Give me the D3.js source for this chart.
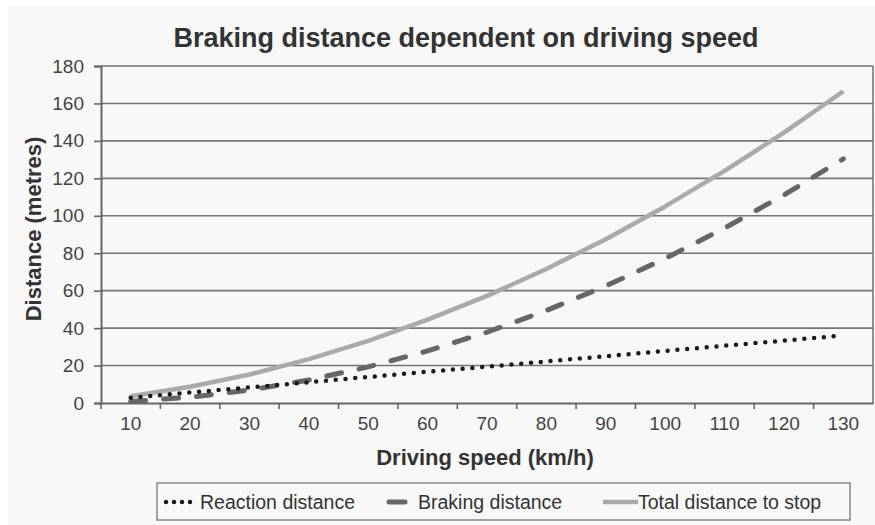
<!DOCTYPE html>
<html><head><meta charset="utf-8">
<script src="https://cdn.jsdelivr.net/npm/d3@7"></script>
<style>
html,body{margin:0;padding:0;background:#fff;}
svg{display:block;}
text{font-family:"Liberation Sans",Arial,sans-serif;}
</style></head>
<body>
<svg id="c" width="875" height="525"></svg>
<script>
const speeds = [10,20,30,40,50,60,70,80,90,100,110,120,130];
const reaction = [2.8,5.6,8.3,11.1,13.9,16.7,19.4,22.2,25,27.8,30.6,33.3,36.1];
const braking = [0.8,3.1,6.9,12.3,19.3,27.8,37.8,49.4,62.5,77.2,93.4,111.1,130.4];
const total = [3.6,8.7,15.2,23.4,33.2,44.5,57.2,71.6,87.5,105,124,144.4,166.5];
const yTicks = [0,20,40,60,80,100,120,140,160,180];
const seriesNames = ["Reaction distance","Braking distance","Total distance to stop"];

const svg = d3.select("#c");
svg.append("rect").attr("x",8).attr("y",6).attr("width",867).attr("height",519).attr("fill","#f8f8f8");

const L=101, R=873, T=66, B=403;
const x = d3.scaleBand().domain(speeds).range([L,R]).padding(0);
const y = d3.scaleLinear().domain([0,180]).range([B,T]);
const cx = d => x(d)+x.bandwidth()/2;
const FONT = "Liberation Sans, Arial, sans-serif";

// gridlines
svg.append("g").selectAll("line").data(yTicks.filter(v=>v>0)).join("line")
  .attr("x1",L).attr("x2",R).attr("y1",d=>y(d)).attr("y2",d=>y(d))
  .attr("stroke","#757575").attr("stroke-width",1.6);
svg.append("line").attr("x1",R).attr("x2",R).attr("y1",T).attr("y2",B).attr("stroke","#757575").attr("stroke-width",1.6);

// y axis
const ya = svg.append("g").attr("transform",`translate(${L},0)`)
  .call(d3.axisLeft(y).tickValues(yTicks).tickSize(7).tickPadding(10));
ya.select(".domain").attr("stroke","#666").attr("stroke-width",2);
ya.selectAll(".tick line").attr("stroke","#666").attr("stroke-width",1.6);
ya.selectAll(".tick text").attr("font-size",19).attr("fill","#444").style("font-family",FONT);

// x axis
const xa = svg.append("g").attr("transform",`translate(0,${B})`)
  .call(d3.axisBottom(x).tickSize(0).tickPadding(14));
xa.select(".domain").attr("stroke","#666").attr("stroke-width",2);
xa.selectAll(".tick text").attr("font-size",19).attr("fill","#444").style("font-family",FONT);
svg.append("g").selectAll("line").data(speeds.slice(1)).join("line")
  .attr("x1",d=>x(d)).attr("x2",d=>x(d)).attr("y1",B).attr("y2",B+6)
  .attr("stroke","#666").attr("stroke-width",1.6);
svg.append("line").attr("x1",L).attr("x2",L).attr("y1",B).attr("y2",B+6).attr("stroke","#666").attr("stroke-width",1.6);

// lines
const line = arr => d3.line().x((d,i)=>cx(speeds[i])).y(d=>y(d))(arr);
svg.append("path").attr("d",line(total)).attr("fill","none").attr("stroke","#aaaaaa").attr("stroke-width",4.5).attr("stroke-linejoin","round");
svg.append("path").attr("d",line(braking)).attr("fill","none").attr("stroke","#666666").attr("stroke-width",5).attr("stroke-dasharray","15,18").attr("stroke-linecap","round");
svg.append("path").attr("d",line(reaction)).attr("fill","none").attr("stroke","#1a1a1a").attr("stroke-width",4.5).attr("stroke-dasharray","0,9.8").attr("stroke-linecap","round");

// title
svg.append("text").attr("x",466).attr("y",47).attr("text-anchor","middle").attr("font-size",27).attr("font-weight","bold").attr("fill","#333")
  .text("Braking distance dependent on driving speed");
svg.append("text").attr("x",485).attr("y",465).attr("text-anchor","middle").attr("font-size",22).attr("font-weight","bold").attr("fill","#333")
  .text("Driving speed (km/h)");
svg.append("text").attr("transform","translate(41,229) rotate(-90)").attr("text-anchor","middle").attr("font-size",22).attr("font-weight","bold").attr("fill","#333")
  .text("Distance (metres)");

// legend
const lg = svg.append("g");
lg.append("rect").attr("x",157).attr("y",483).attr("width",693).attr("height",37).attr("fill","#f8f8f8").attr("stroke","#888").attr("stroke-width",1.5);
const ly = 502;
lg.append("line").attr("x1",166).attr("x2",198).attr("y1",ly).attr("y2",ly).attr("stroke","#1a1a1a").attr("stroke-width",4.5).attr("stroke-dasharray","0,8").attr("stroke-linecap","round");
lg.append("text").attr("x",200).attr("y",ly+7).attr("font-size",19.5).attr("fill","#333").text(seriesNames[0]);
lg.append("line").attr("x1",389).attr("x2",405).attr("y1",ly).attr("y2",ly).attr("stroke","#666").attr("stroke-width",5).attr("stroke-linecap","round");
lg.append("text").attr("x",418).attr("y",ly+7).attr("font-size",19.5).attr("fill","#333").text(seriesNames[1]);
lg.append("line").attr("x1",603).attr("x2",638).attr("y1",ly).attr("y2",ly).attr("stroke","#aaaaaa").attr("stroke-width",4.5);
lg.append("text").attr("x",638).attr("y",ly+7).attr("font-size",19.5).attr("fill","#333").text(seriesNames[2]);
</script>
</body></html>
